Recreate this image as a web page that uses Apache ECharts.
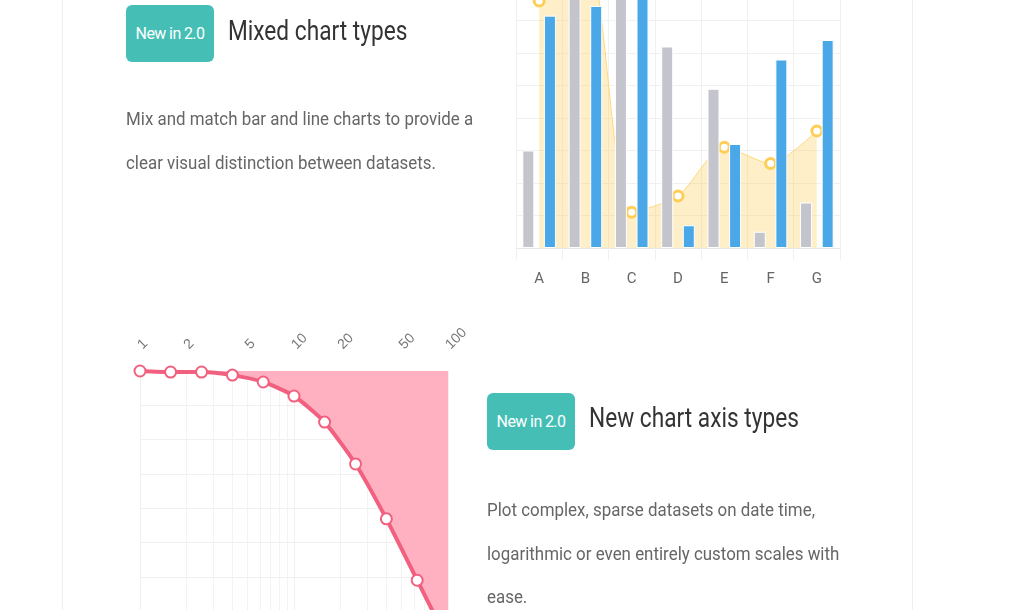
<!DOCTYPE html>
<html><head><meta charset="utf-8">
<script src="https://cdn.jsdelivr.net/npm/echarts@6/dist/echarts.min.js"></script>
<style>
html,body{margin:0;padding:0;background:#fff;overflow:hidden;}
#page{position:relative;width:1024px;height:610px;overflow:hidden;font-family:Roboto,"Open Sans",sans-serif;}
#card{position:absolute;left:62px;top:-2px;width:849px;height:620px;border-left:1px solid #eee;border-right:1px solid #eee;}
#chart{position:absolute;left:0;top:-100px;width:1024px;height:820px;}
.badge{position:absolute;width:88px;height:57px;border-radius:6px;background:#45bfb6;color:#fff;
  font-size:16px;line-height:57px;text-align:center;letter-spacing:-0.6px;}
.title{position:absolute;font-size:27px;color:#333;transform:scaleX(0.84);transform-origin:left top;white-space:nowrap;}
.text{position:absolute;font-size:19px;color:#666;line-height:43.5px;transform:scaleX(0.89);transform-origin:left top;white-space:nowrap;}
</style></head>
<body><div id="page">
<div id="card"></div>
<div id="chart"></div>
<div class="badge" style="left:126px;top:5px">New in 2.0</div>
<div class="title" style="left:228px;top:15px">Mixed chart types</div>
<div class="text" style="left:126px;top:97px">Mix and match bar and line charts to provide a<br>clear visual distinction between datasets.</div>
<div class="badge" style="left:487px;top:393px">New in 2.0</div>
<div class="title" style="left:589px;top:402px">New chart axis types</div>
<div class="text" style="left:487px;top:488px">Plot complex, sparse datasets on date time,<br>logarithmic or even entirely custom scales with<br>ease.</div>
</div>
<script>
var categories = ['A', 'B', 'C', 'D', 'E', 'F', 'G'];
var greyBars = [30, 85, 90, 62, 49, 5, 14];
var blueBars = [71.5, 74.5, 80, 7, 32, 58, 64];
var yellowLine = [76, 92, 11, 16, 31, 26, 36];

var logX = [1, 1.58, 2.51, 3.98, 6.31, 10, 15.8, 25.1, 39.8, 63.1, 100];
var logY = [0, -0.3, -0.3, -1.2, -3.2, -7.3, -14.9, -27.1, -43.1, -61, -79];
var logTicks = [1, 2, 5, 10, 20, 50, 100];

// the chart div sticks out 100px above the page so grids can start off-screen
var chart = echarts.init(document.getElementById('chart'), null, { renderer: 'canvas' });
var gridLine = { show: true, lineStyle: { color: '#f0f0f0', width: 1 } };

chart.setOption({
    animation: false,
    grid: [
        { left: 516, right: 184, top: 23, bottom: 472 },
        { left: 140, right: 576, top: 471, bottom: 6 }
    ],
    xAxis: [{
        gridIndex: 0, type: 'category', data: categories,
        axisLine: { lineStyle: { color: '#e6e6e6' } },
        axisTick: { show: true, length: 12, lineStyle: { color: '#f0f0f0' } },
        axisLabel: { color: '#666', fontSize: 15, margin: 24, fontFamily: 'Roboto' },
        splitLine: gridLine
    }, {
        gridIndex: 1, type: 'log', logBase: 10, min: 1, max: 100, position: 'top',
        axisLine: { show: false }, axisTick: { show: false },
        axisLabel: { customValues: logTicks, rotate: 45, color: '#777', fontSize: 14, margin: 24,
            formatter: function (v) { return String(Math.round(v)); } },
        splitLine: gridLine,
        minorTick: { show: false, splitNumber: 9 },
        minorSplitLine: { show: true, lineStyle: { color: '#f3f3f3' } }
    }],
    yAxis: [{
        gridIndex: 0, type: 'value', min: 0, max: 100, interval: 10,
        axisLine: { show: false }, axisTick: { show: false }, axisLabel: { show: false },
        splitLine: gridLine
    }, {
        gridIndex: 1, type: 'value', min: -100, max: 0, interval: 10,
        axisLine: { show: false }, axisTick: { show: false }, axisLabel: { show: false },
        splitLine: gridLine
    }],
    series: [{
        type: 'line', xAxisIndex: 0, yAxisIndex: 0, data: yellowLine, smooth: 0.25,
        symbol: 'circle', symbolSize: 10, z: 1,
        itemStyle: { color: '#fff', borderColor: '#ffce56', borderWidth: 3 },
        lineStyle: { color: '#ffd77a', width: 1 },
        areaStyle: { color: 'rgba(255,206,86,0.45)' }
    }, {
        type: 'bar', xAxisIndex: 0, yAxisIndex: 0, data: greyBars, barWidth: 12, barGap: '80%', z: 2,
        itemStyle: { color: '#c4c5cc', borderColor: '#fff', borderWidth: 1 }
    }, {
        type: 'bar', xAxisIndex: 0, yAxisIndex: 0, data: blueBars, barWidth: 12, z: 2,
        itemStyle: { color: '#4aa8e8', borderColor: '#fff', borderWidth: 1 }
    }, {
        type: 'line', xAxisIndex: 1, yAxisIndex: 1,
        data: logX.map(function (x, i) { return [x, logY[i]]; }),
        smooth: 0.2, symbol: 'circle', symbolSize: 11,
        itemStyle: { color: '#fff', borderColor: '#f2607f', borderWidth: 2 },
        lineStyle: { color: '#f2607f', width: 4 },
        areaStyle: { origin: 'end', color: '#ffb1c1', opacity: 1 }
    }]
});
</script>
</body></html>
